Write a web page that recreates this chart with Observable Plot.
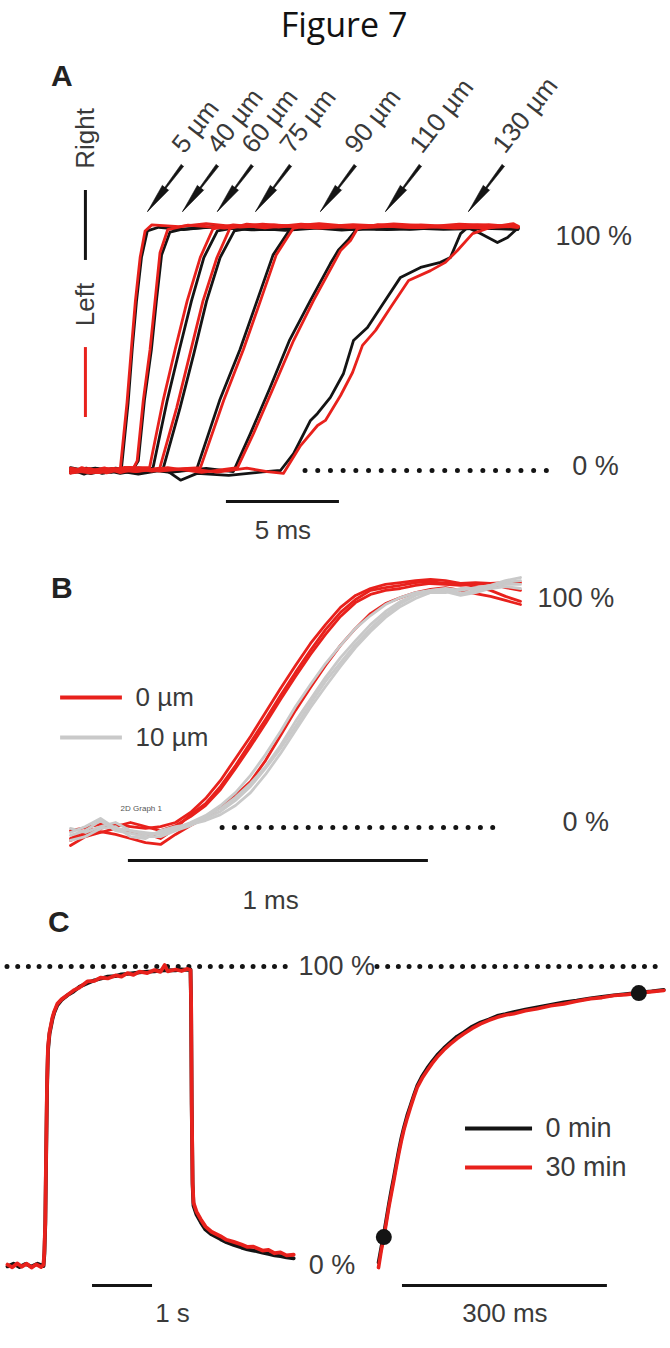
<!DOCTYPE html>
<html>
<head>
<meta charset="utf-8">
<script src="https://cdn.jsdelivr.net/npm/d3@7"></script>
<script src="https://cdn.jsdelivr.net/npm/@observablehq/plot@0.6"></script>
<style>
  body { margin: 0; background: #ffffff; }
  #fig { position: relative; width: 670px; height: 1348px; overflow: hidden; background: #ffffff; }
  #fig svg { position: absolute; left: 0; }
  .title { position: absolute; left: 0; top: 7px; width: 670px; box-sizing: border-box; padding-left: 18px;
           text-align: center; font-family: "Open Sans", "Noto Sans", sans-serif; font-size: 34px;
           line-height: 1; color: #111; }
  .panel { position: absolute; font-family: "Liberation Sans", Arial, sans-serif; font-weight: bold;
           font-size: 30px; line-height: 1; color: #222; }
</style>
</head>
<body>
<div id="fig">
  <div class="title">Figure 7</div>
  <div class="panel" style="left:51px;top:61px">A</div>
  <div class="panel" style="left:51px;top:573px">B</div>
  <div class="panel" style="left:48px;top:907px">C</div>
</div>
<script>
// ---------- Panel A: activation fronts at increasing distance (ms, % of max) ----------
const pairLabels = ["5 µm", "40 µm", "60 µm", "75 µm", "90 µm", "110 µm", "130 µm"];
const arrowTipTimes = [3.41, 4.96, 6.50, 8.19, 11.06, 13.94, 17.61];
const arrowTipLevel = 107;

const rightTraces = [
  [[0,0.5],[0.6,-1.5],[1.2,0.8],[1.8,-0.8],[2.25,0.5],[2.55,28],[2.73,50],[2.92,70],[3.14,88],[3.4,99],[3.9,100.5],[5,99.5],[6.5,101],[8,99.8],[10,100.8],[12.5,99.6],[15,100.5],[17.5,101.2],[19.8,100]],
  [[0,-0.8],[0.7,1],[1.4,-1.2],[2.1,0.6],[2.7,-0.5],[3.0,4],[3.27,29],[3.58,50],[3.8,70],[4.03,89],[4.4,98.5],[5,99.8],[6.3,100.6],[8,99.4],[10.5,100.5],[13,99.8],[16,100.8],[19.8,99.8]],
  [[0,0.3],[0.9,-1.3],[1.8,0.7],[2.7,-0.6],[3.65,1],[4.28,29],[4.82,50],[5.35,70],[5.9,88],[6.5,99],[7.2,100.2],[8.8,99.5],[11,100.7],[13.5,99.7],[16.5,100.4],[19.8,100.2]],
  [[0,1.2],[1,-0.7],[2,1],[3,-1.2],[4.1,0.8],[4.85,26],[5.45,48],[6.02,70],[6.62,88],[7.25,99],[8,100.3],[9.5,99.2],[11.5,100.6],[14,99.5],[17,100.4],[19.8,99.6]],
  [[0,-0.4],[1.1,1],[2.2,-1.2],[3.3,0.6],[4.4,-0.8],[5.6,1],[6.6,29],[7.5,50],[8.25,70],[8.96,89],[9.7,99.5],[10.6,100.4],[12,99.3],[14,100.6],[16.5,99.6],[19.8,100.3]],
  [[0,0.6],[1.5,-1],[3,1.1],[4.5,-0.7],[6,0.9],[7.2,-0.5],[7.95,15],[8.82,34],[9.7,54],[10.6,70],[11.5,85.5],[11.85,91],[12.3,95.5],[12.65,99.5],[13.4,100.8],[15,99.6],[17,100.7],[19.8,99.8]],
  [[0,-1],[1.5,0.8],[3,-1.5],[4.2,0.4],[4.87,-4],[5.6,-1.2],[7,-2],[8.5,-0.6],[9.29,0],[9.87,7],[10.62,20.7],[10.93,23.6],[11.5,30.2],[12.08,40.1],[12.52,53.7],[13.14,59.1],[13.72,67.4],[14.6,79.8],[15.49,83.9],[16.37,86],[16.81,88],[17.26,97.9],[17.57,100.4],[18.14,97.9],[18.89,94.2],[19.34,96.3],[19.82,100.4]]
];
const leftTraces = [
  [[0,-1],[0.5,1.2],[1.1,-0.6],[1.7,0.8],[2.2,0.4],[2.5,28],[2.69,50],[2.87,70],[3.08,88],[3.3,99],[3.6,101.5],[4.8,100.8],[6,102],[7.5,100.6],[9,101.5],[11,100.2],[13,101.2],[15.5,100.4],[18,101.5],[19.8,100.5]],
  [[0,1],[0.8,-0.5],[1.5,1.1],[2.2,-0.9],[2.75,0.4],[2.95,4],[3.22,29],[3.52,50],[3.74,70],[3.96,90],[4.3,99.5],[5.2,101.4],[6.8,100.2],[8.5,101.8],[10.5,100.4],[12.5,101.6],[15,100.5],[17.5,101.3],[19.8,100.8]],
  [[0,-0.6],[0.8,0.9],[1.6,-1],[2.5,1.2],[3.5,1.2],[4.1,29],[4.63,50],[5.16,70],[5.74,88],[6.3,99.8],[7.2,101.5],[8.6,100.3],[10.2,101.8],[12.3,100.5],[14.5,101.4],[17,100.2],[19.8,101]],
  [[0,0.2],[0.9,-1.1],[1.9,0.9],[2.9,-0.4],[3.95,1],[4.7,26],[5.28,48],[5.86,70],[6.48,88],[7.05,100],[7.8,101.8],[9.2,100.6],[11,102],[13,100.4],[15.5,101.5],[18,100.3],[19.8,100.9]],
  [[0,0.9],[1.2,-0.9],[2.4,1.3],[3.6,-0.3],[4.8,0.7],[5.75,1.2],[6.78,29],[7.65,50],[8.4,70],[9.1,89],[9.85,100],[10.8,101.7],[12.4,100.5],[14.3,101.9],[16.5,100.7],[18.5,101.6],[19.8,100.6]],
  [[0,-1.1],[1.4,0.7],[2.9,-0.5],[4.3,1.2],[5.8,-0.8],[7.39,1.2],[8.1,15.3],[8.98,34.3],[9.87,53.7],[10.75,70.2],[11.64,85.5],[11.95,90.9],[12.39,95],[12.7,100],[13.6,101.6],[15.3,100.4],[17.2,101.8],[19.8,100.7]],
  [[0,0.4],[1.3,-0.9],[2.6,1.3],[3.9,-0.2],[5.2,0.8],[6.5,-0.7],[7.8,1],[8.7,-0.5],[9.42,-1.2],[10.18,10.3],[10.93,18.6],[11.28,20.7],[11.95,31],[12.48,40.5],[12.92,51.7],[13.5,57.9],[14.16,67.4],[14.96,78.5],[15.93,82.6],[16.59,86],[17.12,90.9],[17.79,97.9],[18.45,100],[19.03,101.2],[19.6,102],[19.82,100.8]]
];

// ---------- Panel B: rising phase at 0 µm vs 10 µm (ms, %) ----------
const timeB = [0,0.05,0.1,0.15,0.2,0.25,0.3,0.35,0.4,0.45,0.5,0.55,0.6,0.65,0.7,0.75,0.8,0.85,0.9,0.95,1.0,1.05,1.1,1.15,1.2,1.25,1.3,1.35,1.4,1.45,1.5];
const red0um = [
  [-7.5,-3.8,-2.1,-0.4,-2.1,-2.5,-4.6,-0.4,5.4,10,17.2,25.9,35.6,45.2,55.2,64.9,74.1,82.8,90,95.4,99.2,100.4,101.3,102.5,102.9,102.1,102.1,102.5,102.1,100.4,99.2],
  [-4.6,-1.3,-0.4,1.3,0.4,-0.4,0.4,2.1,6.3,12.1,19.7,28.9,38.1,48.1,58.2,67.8,77,84.9,92.1,97.1,100,101.7,102.5,103.3,103.8,103.3,102.1,100.8,99.2,96.7,94.6],
  [-1.3,0,1.3,0.4,2.1,0.4,-1.3,0.8,4.6,9.2,15.9,24.7,33.9,43.5,53.6,63.2,72.4,80.8,88.3,94.1,97.5,99.2,100,101.3,102.1,101.7,101.3,101.7,102.1,102.5,102.5],
  [-5.4,-2.5,-1.7,-2.9,-4.6,-6.3,-7.1,-2.9,0.8,4.2,8.4,13.4,19.2,28,38.5,49,58.6,67.8,76.2,83.3,89.5,93.7,96.2,98.3,99.6,100.4,99.2,97.9,96.7,95,93.3]
];
const gray10um = [
  [-3.3,-1.3,2.9,-1.3,-2.5,-3.8,-3.8,-1.3,0.8,3.8,6.7,11.3,17.2,24.7,33.1,42.3,51.9,61.1,69,76.6,83.3,89.1,93.7,97.1,99.2,99.6,97.9,99.2,100.8,102.5,103.3],
  [-0.4,-2.1,0.4,2.1,-1.3,-2.1,-2.9,-0.4,2.1,5,9.2,14.6,21.8,30.5,40.2,50.6,59.8,68.6,76.2,83.3,88.7,93.3,96.2,98.3,99.2,100,99.2,100.4,101.3,101.7,101.7],
  [-5.4,-3.8,-0.4,0.4,-3.8,-4.6,-1.3,0.4,1.3,2.9,5.4,9.2,14.6,22.2,31,40.6,50.2,59,67.4,75.3,82,87.9,92.5,95.8,98.3,98.7,97.1,98.3,100,100.8,100],
  [-2.1,0.4,3.8,-0.4,-1.3,-2.9,-2.1,-0.4,1.7,4.6,7.9,12.6,18.4,25.5,34.3,44.4,53.6,62.8,71.1,78.2,84.9,90.4,94.6,97.5,98.3,98.3,100,100,101.3,103.3,104.6]
];

// ---------- Panel C: long pulse (s, %) and its rising phase (ms, %) ----------
const pulse0min = [[0,-0.3],[0.1,0.6],[0.2,-0.5],[0.3,0.5],[0.4,-0.3],[0.5,0.6],[0.6,-0.2],[0.615,4],[0.63,14],[0.645,38],[0.66,60],[0.675,72],[0.7,77.5],[0.72,79.5],[0.75,82.5],[0.78,84.6],[0.83,87],[0.9,88.8],[1.0,90.4],[1.1,91.6],[1.2,93.2],[1.33,94.4],[1.45,95.4],[1.55,95.9],[1.67,96.6],[1.8,96.8],[1.9,97.4],[2.0,97.5],[2.1,97.8],[2.2,98],[2.33,98.3],[2.45,98.4],[2.55,98.6],[2.67,98.8],[2.8,98.7],[2.9,99],[3.0,98.9],[3.05,99],[3.06,87],[3.07,54],[3.085,27],[3.1,20],[3.15,17],[3.22,14.5],[3.3,12],[3.4,10.4],[3.55,8.8],[3.65,7.8],[3.77,6.9],[3.9,6],[4.0,5.4],[4.1,5],[4.25,4.3],[4.35,3.9],[4.45,3.4],[4.55,3.1],[4.65,2.7],[4.77,2.4]];
const pulse30min = [[0,0.3],[0.08,-0.6],[0.16,0.7],[0.24,-0.4],[0.32,0.6],[0.4,-0.7],[0.48,0.4],[0.56,-0.5],[0.6,0.2],[0.615,5],[0.63,15],[0.645,40],[0.66,62],[0.675,73],[0.7,78],[0.72,80],[0.75,83],[0.78,85],[0.83,87.5],[0.9,89],[1.0,90.5],[1.1,92],[1.2,93],[1.33,95],[1.45,95.2],[1.55,96.3],[1.67,96],[1.8,97],[1.9,96.6],[2.0,97.8],[2.1,97.2],[2.2,98.3],[2.33,97.8],[2.45,98.8],[2.55,98.2],[2.62,100.5],[2.67,98.4],[2.8,99],[2.9,98.5],[3.0,99.2],[3.05,98.8],[3.06,88],[3.07,55],[3.085,28],[3.1,21],[3.15,18],[3.22,15.5],[3.3,13],[3.4,11.3],[3.55,9.8],[3.65,8.6],[3.77,7.9],[3.9,7],[4.0,6.2],[4.1,6.3],[4.25,5],[4.35,5.2],[4.45,4.1],[4.55,4.4],[4.65,3.4],[4.77,3.6]];
const rise0min = [[0,1],[4,6],[7.8,10.5],[11.5,15.5],[15.1,20.5],[18.8,25.2],[22.4,29.5],[26,34],[29.7,38.5],[33.3,42.5],[37,46],[42,50.2],[46.9,53.6],[51.8,57],[56.7,60.2],[64,63.4],[71.3,66],[78.6,68.3],[85.9,70.4],[95.6,72.7],[105.4,74.7],[115,76.6],[124.9,78],[137,79.9],[149.3,81.3],[161.5,82.3],[173.8,83.5],[186,84.1],[198.1,84.8],[215,85.6],[232.4,86.4],[252,87.2],[271.3,88],[290,88.6],[310.4,89.4],[327,89.9],[344.5,90.4],[362,90.8],[381.1,91.3],[400,91.7],[417.7,92.2]];
const rise30min = [[0,-0.7],[4,5],[7.8,9.5],[11.5,14.5],[15.1,19.5],[18.8,24],[22.4,28.4],[26,33],[29.7,37.5],[33.3,41.5],[37,45.2],[42,49.3],[46.9,52.9],[51.8,56.4],[56.7,59.6],[64,62.7],[71.3,65.2],[78.6,67.6],[85.9,69.7],[95.6,72.1],[105.4,74.1],[115,75.9],[124.9,77.5],[137,79.3],[149.3,80.8],[161.5,82],[173.8,83],[186,83.8],[198.1,84.2],[215,85.2],[232.4,85.9],[252,86.9],[271.3,87.5],[290,88.4],[310.4,89.2],[327,89.6],[344.5,90.3],[362,90.6],[381.1,91.1],[400,91.6],[417.7,92]];
const riseMarkers = [[7.8, 9.5], [381.1, 91.1]];

// Level and scale-bar labels
const levelLabels = ["0 %", "100 %"];
const scaleLabelA = "5 ms", scaleLabelB = "1 ms", scaleLabelC1 = "1 s", scaleLabelC2 = "300 ms";

// ---------- shared styling ----------
const RED = "#e8211c", BLACK = "#141414", GRAY = "#c9c9c9", TEXT = "#3a3a3a";
const FONT = "'Liberation Sans', Arial, sans-serif";
const base = {width: 670, margin: 0, style: {background: "transparent", overflow: "visible", fontFamily: FONT}};
const dotted = (gap) => ({stroke: BLACK, strokeWidth: 5, strokeLinecap: "round", strokeDasharray: `0 ${gap}`});
const fig = document.getElementById("fig");
function place(svg, top) { svg.style.top = top + "px"; fig.appendChild(svg); }

// ---------- Panel A ----------
const rowsA = [];
pairLabels.forEach((label, i) => {
  rightTraces[i].forEach(([t, v]) => rowsA.push({id: "R" + i, side: "Right", t, v}));
  leftTraces[i].forEach(([t, v]) => rowsA.push({id: "L" + i, side: "Left", t, v}));
});
const arrowsA = pairLabels.map((label, i) => ({label, t: arrowTipTimes[i], v: arrowTipLevel}));

place(Plot.plot({
  ...base, height: 510,
  x: {domain: [0, 20], range: [70, 522], axis: null},
  y: {domain: [0, 100], range: [420, 178], axis: null},
  color: {domain: ["Right", "Left"], range: [BLACK, RED]},
  marks: [
    Plot.ruleY([0], {x1: 10.4, x2: 21.5, ...dotted(12.7)}),
    Plot.line(rowsA.filter(d => d.side === "Right"), {x: "t", y: "v", z: "id", stroke: "side", strokeWidth: 2.8, strokeLinejoin: "round"}),
    Plot.line(rowsA.filter(d => d.side === "Left"), {x: "t", y: "v", z: "id", stroke: "side", strokeWidth: 2.8, strokeLinejoin: "round"}),
    // arrows: thin shaft plus an elongated head, tip on the plateau
    Plot.vector(arrowsA, {x: "t", y: "v", length: 58, rotate: 217, anchor: "end", shape: "spike", r: 1.6, fill: BLACK, stroke: BLACK, strokeWidth: 0.5}),
    Plot.vector(arrowsA, {x: "t", y: "v", length: 30, rotate: 217, anchor: "end", shape: "spike", r: 4, fill: BLACK, stroke: BLACK, strokeWidth: 0.5}),
    Plot.text(arrowsA, {x: "t", y: "v", text: "label", rotate: -52, textAnchor: "start", dx: 30, dy: -62, fontSize: 26, fill: TEXT}),
    // level labels
    Plot.text([levelLabels[1]], {x: 21.46, y: 100, text: d => d, textAnchor: "start", dy: 8, fontSize: 27, fill: TEXT}),
    Plot.text([levelLabels[0]], {x: 22.2, y: 0, text: d => d, textAnchor: "start", dy: -4, fontSize: 27, fill: TEXT}),
    // scale bar
    Plot.ruleY([-12.8], {x1: 6.9, x2: 11.9, stroke: BLACK, strokeWidth: 3}),
    Plot.text([scaleLabelA], {x: 9.4, y: -12.8, text: d => d, dy: 29, fontSize: 26, fill: TEXT}),
    // side legend
    Plot.ruleX(["Right"], {x: 0.66, y1: 86.8, y2: 115.7, stroke: d => d, strokeWidth: 3}),
    Plot.ruleX(["Left"], {x: 0.66, y1: 21.9, y2: 50.8, stroke: d => d, strokeWidth: 3}),
    Plot.text(["Right"], {x: 0.66, y: 137.2, text: d => d, rotate: -90, fontSize: 26, fill: TEXT}),
    Plot.text(["Left"], {x: 0.66, y: 68.6, text: d => d, rotate: -90, fontSize: 26, fill: TEXT})
  ]
}), 50);

// ---------- Panel B ----------
const rowsB = [];
red0um.forEach((vals, k) => vals.forEach((v, j) => rowsB.push({id: "r" + k, group: "0 µm", t: timeB[j], v})));
gray10um.forEach((vals, k) => vals.forEach((v, j) => rowsB.push({id: "g" + k, group: "10 µm", t: timeB[j], v})));

place(Plot.plot({
  ...base, height: 360,
  x: {domain: [0, 1.5], range: [70, 520], axis: null},
  y: {domain: [0, 100], range: [267, 28], axis: null},
  color: {domain: ["0 µm", "10 µm"], range: [RED, GRAY]},
  marks: [
    Plot.ruleY([0], {x1: 0.507, x2: 1.44, ...dotted(12.3)}),
    Plot.line(rowsB.filter(d => d.group === "0 µm"), {x: "t", y: "v", z: "id", stroke: "group", strokeWidth: 2.8, strokeLinejoin: "round"}),
    Plot.line(rowsB.filter(d => d.group === "10 µm"), {x: "t", y: "v", z: "id", stroke: "group", strokeWidth: 2.8, strokeLinejoin: "round"}),
    Plot.text(["2D Graph 1"], {x: 0.167, y: 7.9, text: d => d, textAnchor: "start", fontSize: 8, fill: "#555"}),
    Plot.text([levelLabels[1]], {x: 1.557, y: 96, text: d => d, textAnchor: "start", fontSize: 27, fill: TEXT}),
    Plot.text([levelLabels[0]], {x: 1.64, y: 2, text: d => d, textAnchor: "start", fontSize: 27, fill: TEXT}),
    Plot.ruleY([-13.8], {x1: 0.193, x2: 1.193, stroke: BLACK, strokeWidth: 3}),
    Plot.text([scaleLabelB], {x: 0.667, y: -13.8, text: d => d, dy: 40, fontSize: 26, fill: TEXT}),
    // legend
    Plot.ruleY(["0 µm"], {y: 54.4, x1: -0.033, x2: 0.173, stroke: d => d, strokeWidth: 4}),
    Plot.ruleY(["10 µm"], {y: 37.7, x1: -0.033, x2: 0.173, stroke: d => d, strokeWidth: 4}),
    Plot.text(["0 µm"], {x: 0.217, y: 54.4, text: d => d, textAnchor: "start", fontSize: 26, fill: TEXT}),
    Plot.text(["10 µm"], {x: 0.217, y: 37.7, text: d => d, textAnchor: "start", fontSize: 26, fill: TEXT})
  ]
}), 560);

// ---------- Panel C, left: whole pulse ----------
const rowsC1 = [
  ...pulse0min.map(([t, v]) => ({id: "0 min", t, v})),
  ...pulse30min.map(([t, v]) => ({id: "30 min", t, v}))
];
place(Plot.plot({
  ...base, height: 448,
  x: {domain: [0, 5], range: [7, 307], axis: null},
  y: {domain: [0, 100], range: [365, 66], axis: null},
  color: {domain: ["0 min", "30 min"], range: [BLACK, RED]},
  marks: [
    Plot.ruleY([100], {x1: 0, x2: 4.72, ...dotted(10.7)}),
    Plot.line(rowsC1, {x: "t", y: "v", z: "id", stroke: "id", strokeWidth: 3.8, strokeLinejoin: "round"}),
    Plot.text([levelLabels[1]], {x: 4.85, y: 100, text: d => d, textAnchor: "start", fontSize: 27, fill: TEXT}),
    Plot.text([levelLabels[0]], {x: 5.02, y: 0, text: d => d, textAnchor: "start", fontSize: 27, fill: TEXT}),
    Plot.ruleY([-6.7], {x1: 1.417, x2: 2.417, stroke: BLACK, strokeWidth: 3}),
    Plot.text([scaleLabelC1], {x: 2.75, y: -6.7, text: d => d, dy: 28, fontSize: 26, fill: TEXT})
  ]
}), 900);

// ---------- Panel C, right: rising phase on an expanded time base ----------
const rowsC2 = [
  ...rise0min.map(([t, v]) => ({id: "0 min", t, v})),
  ...rise30min.map(([t, v]) => ({id: "30 min", t, v}))
];
place(Plot.plot({
  ...base, height: 448,
  x: {domain: [0, 420], range: [378, 664.9], axis: null},
  y: {domain: [0, 100], range: [365, 66], axis: null},
  color: {domain: ["0 min", "30 min"], range: [BLACK, RED]},
  marks: [
    Plot.ruleY([100], {x1: -1.5, x2: 417, ...dotted(10.7)}),
    Plot.line(rowsC2, {x: "t", y: "v", z: "id", stroke: "id", strokeWidth: 3.6, strokeLinejoin: "round"}),
    Plot.dot(riseMarkers, {x: d => d[0], y: d => d[1], r: 8, fill: BLACK}),
    Plot.ruleY([-6.7], {x1: 35.1, x2: 335.1, stroke: BLACK, strokeWidth: 3}),
    Plot.text([scaleLabelC2], {x: 185.1, y: -6.7, text: d => d, dy: 28, fontSize: 26, fill: TEXT}),
    // legend
    Plot.ruleY(["0 min"], {y: 45.8, x1: 127.4, x2: 225.5, stroke: d => d, strokeWidth: 4}),
    Plot.ruleY(["30 min"], {y: 32.8, x1: 127.4, x2: 225.5, stroke: d => d, strokeWidth: 4}),
    Plot.text(["0 min"], {x: 244.5, y: 45.8, text: d => d, textAnchor: "start", fontSize: 27, fill: TEXT}),
    Plot.text(["30 min"], {x: 244.5, y: 32.8, text: d => d, textAnchor: "start", fontSize: 27, fill: TEXT})
  ]
}), 900);
</script>
</body>
</html>
